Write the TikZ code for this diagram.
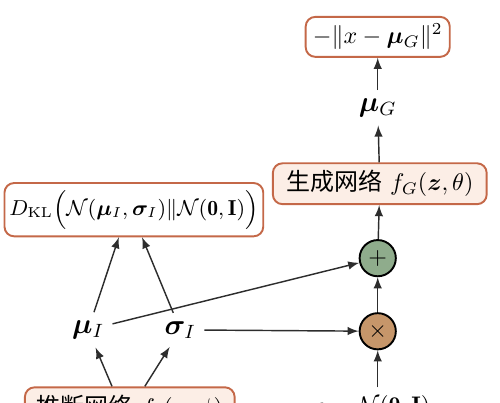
\documentclass[tikz,border=0pt]{standalone}
\usepackage{amsmath,amssymb,bm}
\usepackage{fontspec}
\newfontfamily\cjk{Noto Sans CJK SC}
\usetikzlibrary{positioning}
\definecolor{boxline}{RGB}{196,104,72}
\definecolor{boxfill}{RGB}{252,238,230}
\definecolor{plusfill}{RGB}{143,172,140}
\definecolor{timesfill}{RGB}{198,150,106}
\definecolor{arrline}{RGB}{45,45,45}
\begin{document}
\begin{tikzpicture}[
    netbox/.style={rectangle, draw=boxline, line width=0.8pt, rounded corners=4pt,
                   fill=boxfill, inner sep=3pt, minimum height=0.59cm, align=center},
    lossbox/.style={rectangle, draw=boxline, line width=0.8pt, rounded corners=4pt,
                    fill=white, inner sep=3pt, align=center},
    op/.style={circle, draw, line width=0.8pt, minimum size=0.53cm, inner sep=0pt},
    var/.style={font=\large},
    arr/.style={->, >=latex, line width=0.6pt, draw=arrline},
  ]
  \clip (0,0) rectangle (7.32,5.90);

  % ===== generation side (right) =====
  \node[lossbox, minimum height=0.45cm] (rec) at (5.53, 5.36) {$-\|x-\bm{\mu}_G\|^2$};
  \node[var] (muG) at (5.53, 4.32) {$\bm{\mu}_G$};
  \node[netbox, minimum width=3.13cm] (gen) at (5.56, 3.21) {{\cjk 生成网络}\ $f_G(\bm{z},\theta)$};

  \node[op, fill=plusfill] (plus) at (5.53, 2.12) {$+$};
  \node[op, fill=timesfill] (times) at (5.53, 1.05) {$\times$};
  \node (eps) at (5.45, -0.07) {$\epsilon\sim\mathcal{N}(\mathbf{0},\mathbf{I})$};

  % ===== inference side (left) =====
  \node[lossbox, font=\small, inner xsep=2pt, minimum width=3.55cm, minimum height=0.73cm] (kl) at (1.96, 2.83)
    {$D_{\mathrm{KL}}\Big(\mathcal{N}(\bm{\mu}_I,\bm{\sigma}_I)\|\mathcal{N}(\mathbf{0},\mathbf{I})\Big)$};
  \node[var] (muI) at (1.29, 1.07) {$\bm{\mu}_I$};
  \node[var] (sigI) at (2.64, 1.07) {$\bm{\sigma}_I$};
  \node[netbox, minimum width=3.07cm] (inf) at (1.90, -0.07) {{\cjk 推断网络}\ $f_I(\bm{x},\phi)$};

  % arrows
  \draw[arr] (rec.south |- muG.north) -- (rec);
  \draw[arr] (gen) -- (muG);
  \draw[arr] (plus) -- (gen);
  \draw[arr] (times) -- (plus);
  \draw[arr] (eps.north -| times) -- (times);

  \draw[arr] (muI) -- ([xshift=-0.22cm]kl.south);
  \draw[arr] (sigI) -- ([xshift=0.12cm]kl.south);
  \draw[arr] ([xshift=-0.26cm]inf.north) -- (muI);
  \draw[arr] ([xshift=0.22cm]inf.north) -- (sigI);

  \draw[arr] (muI) -- (plus);
  \draw[arr] (sigI) -- (times);

\end{tikzpicture}
\end{document}
